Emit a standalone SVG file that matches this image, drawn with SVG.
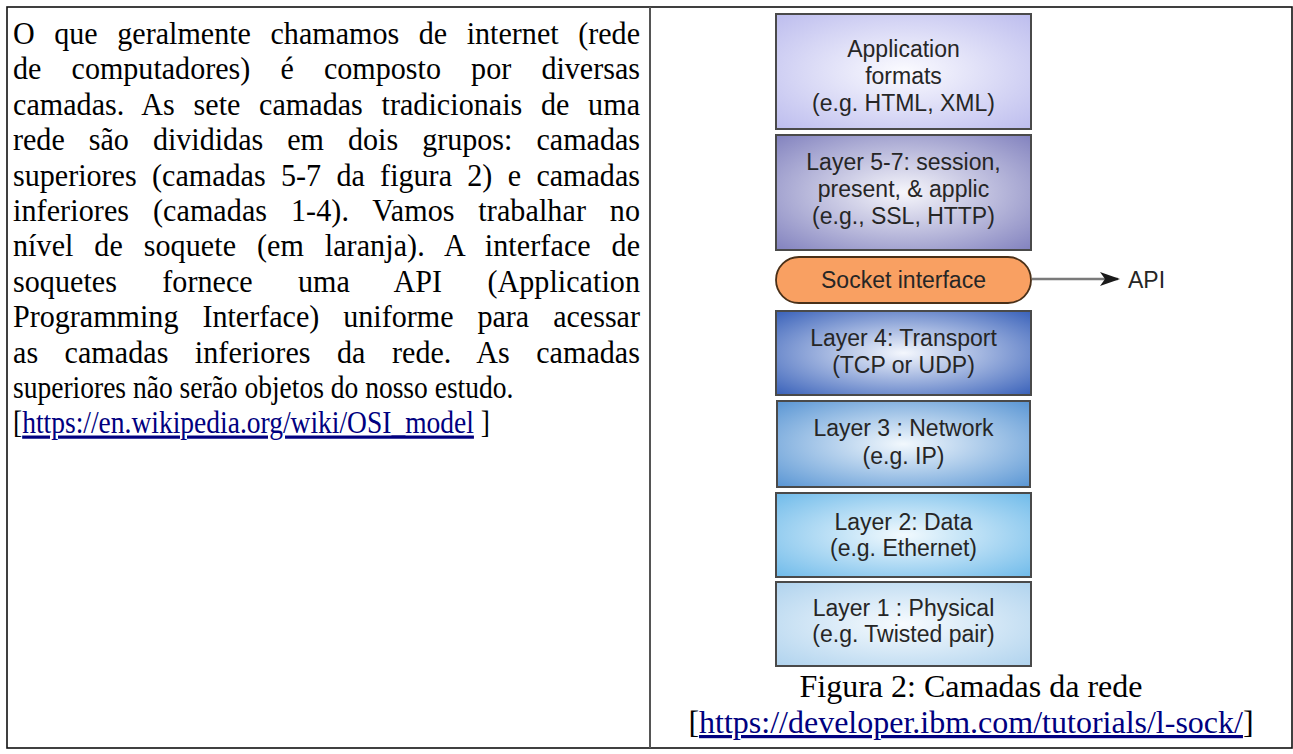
<svg xmlns="http://www.w3.org/2000/svg" width="1293" height="754" viewBox="0 0 1293 754">
<style>
.body{font-family:"Liberation Serif","Times New Roman",serif;font-size:32px;fill:#000}
.lnk{fill:#000080;text-decoration:underline}
.bx{font-family:"Liberation Sans",Arial,sans-serif;font-size:23px;fill:#262626;text-anchor:middle}
.box{stroke:#4a4a4a;stroke-width:2}
</style>
<defs>
<radialGradient id="gA" cx="50%" cy="50%" r="70%"><stop offset="0" stop-color="#fbfbff"/><stop offset="1" stop-color="#bdbdee"/></radialGradient>
<radialGradient id="gB" cx="50%" cy="50%" r="70%"><stop offset="0" stop-color="#f6f6fb"/><stop offset="1" stop-color="#8383bf"/></radialGradient>
<radialGradient id="g4" cx="50%" cy="50%" r="70%"><stop offset="0" stop-color="#f4f7fd"/><stop offset="1" stop-color="#3a62ba"/></radialGradient>
<radialGradient id="g3" cx="50%" cy="50%" r="70%"><stop offset="0" stop-color="#f2f8fd"/><stop offset="1" stop-color="#5a96d4"/></radialGradient>
<radialGradient id="g2" cx="50%" cy="50%" r="70%"><stop offset="0" stop-color="#f2fafe"/><stop offset="1" stop-color="#70bbea"/></radialGradient>
<radialGradient id="g1" cx="50%" cy="50%" r="70%"><stop offset="0" stop-color="#f7fbfe"/><stop offset="1" stop-color="#b0d3ee"/></radialGradient>
<marker id="arr" viewBox="0 0 20 14" refX="18" refY="7" markerWidth="20" markerHeight="14" markerUnits="userSpaceOnUse" orient="auto"><path d="M0,0 L20,7 L0,14 L5,7 Z" fill="#1a1a1a"/></marker>
</defs>
<rect x="0" y="0" width="1293" height="754" fill="#fff"/>
<g id="table">
<rect x="7" y="7" width="1285" height="741" fill="none" stroke="#111" stroke-width="1.6"/>
<line x1="650" y1="7" x2="650" y2="748" stroke="#555" stroke-width="2"/>
</g>
<g id="paragraph" class="body">
<g transform="translate(13,0) scale(0.94,1)">
<text x="0" y="44" word-spacing="12.8" textLength="667" lengthAdjust="spacing">O que geralmente chamamos de internet (rede</text>
<text x="0" y="79.4" word-spacing="24.1" textLength="667" lengthAdjust="spacing">de computadores) é composto por diversas</text>
<text x="0" y="114.8" word-spacing="11.8" textLength="667" lengthAdjust="spacing">camadas. As sete camadas tradicionais de uma</text>
<text x="0" y="150.2" word-spacing="17.6" textLength="667" lengthAdjust="spacing">rede são divididas em dois grupos: camadas</text>
<text x="0" y="185.6" word-spacing="8.3" textLength="667" lengthAdjust="spacing">superiores (camadas 5-7 da figura 2) e camadas</text>
<text x="0" y="221" word-spacing="17.2" textLength="667" lengthAdjust="spacing">inferiores (camadas 1-4). Vamos trabalhar no</text>
<text x="0" y="256.4" word-spacing="14" textLength="667" lengthAdjust="spacing">nível de soquete (em laranja). A interface de</text>
<text x="0" y="291.8" word-spacing="40.1" textLength="667" lengthAdjust="spacing">soquetes fornece uma API (Application</text>
<text x="0" y="327.2" word-spacing="17.5" textLength="667" lengthAdjust="spacing">Programming Interface) uniforme para acessar</text>
<text x="0" y="362.6" word-spacing="20.1" textLength="667" lengthAdjust="spacing">as camadas inferiores da rede. As camadas</text>
</g>
<g transform="translate(13,0) scale(0.86,1)">
<text x="0" y="398">superiores não serão objetos do nosso estudo.</text>
<text x="0" y="433.4">[<tspan class="lnk">https://en.wikipedia.org/wiki/OSI_model</tspan> ]</text>
</g>
</g>
<g id="node-application">
<rect class="box" x="776" y="14" width="255" height="115" fill="url(#gA)"/>
<text class="bx" x="903.5" y="57">Application</text>
<text class="bx" x="903.5" y="84">formats</text>
<text class="bx" x="903.5" y="111">(e.g. HTML, XML)</text>
</g>
<g id="node-layer57">
<rect class="box" x="776" y="135" width="255" height="115" fill="url(#gB)"/>
<text class="bx" x="903.5" y="170">Layer 5-7: session,</text>
<text class="bx" x="903.5" y="197">present, &amp; applic</text>
<text class="bx" x="903.5" y="224">(e.g., SSL, HTTP)</text>
</g>
<g id="node-socket">
<rect x="776" y="257" width="255" height="46" rx="23" ry="23" fill="#f9a062" stroke="#4a3018" stroke-width="1.8"/>
<text class="bx" x="903.5" y="288">Socket interface</text>
</g>
<g id="node-layer4">
<rect class="box" x="776" y="311" width="255" height="84" fill="url(#g4)"/>
<text class="bx" x="903.5" y="346">Layer 4: Transport</text>
<text class="bx" x="903.5" y="373">(TCP or UDP)</text>
</g>
<g id="node-layer3">
<rect class="box" x="777" y="401" width="253" height="86" fill="url(#g3)"/>
<text class="bx" x="903.5" y="436">Layer 3 : Network</text>
<text class="bx" x="903.5" y="464">(e.g. IP)</text>
</g>
<g id="node-layer2">
<rect class="box" x="776" y="493" width="255" height="84" fill="url(#g2)"/>
<text class="bx" x="903.5" y="530">Layer 2: Data</text>
<text class="bx" x="903.5" y="556">(e.g. Ethernet)</text>
</g>
<g id="node-layer1">
<rect class="box" x="776" y="582" width="255" height="84" fill="url(#g1)"/>
<text class="bx" x="903.5" y="616">Layer 1 : Physical</text>
<text class="bx" x="903.5" y="642">(e.g. Twisted pair)</text>
</g>
<g id="node-api">
<text x="1128" y="288" font-family="Liberation Sans, Arial, sans-serif" font-size="23" fill="#262626">API</text>
</g>
<g id="connectors">
<line x1="1032" y1="279" x2="1118" y2="279" stroke="#7a7a7a" stroke-width="2.5" marker-end="url(#arr)"/>
</g>
<g id="caption" class="body" text-anchor="middle">
<text x="971" y="697">Figura 2: Camadas da rede</text>
<text x="971" y="733">[<tspan class="lnk">https://developer.ibm.com/tutorials/l-sock/</tspan>]</text>
</g>
</svg>
